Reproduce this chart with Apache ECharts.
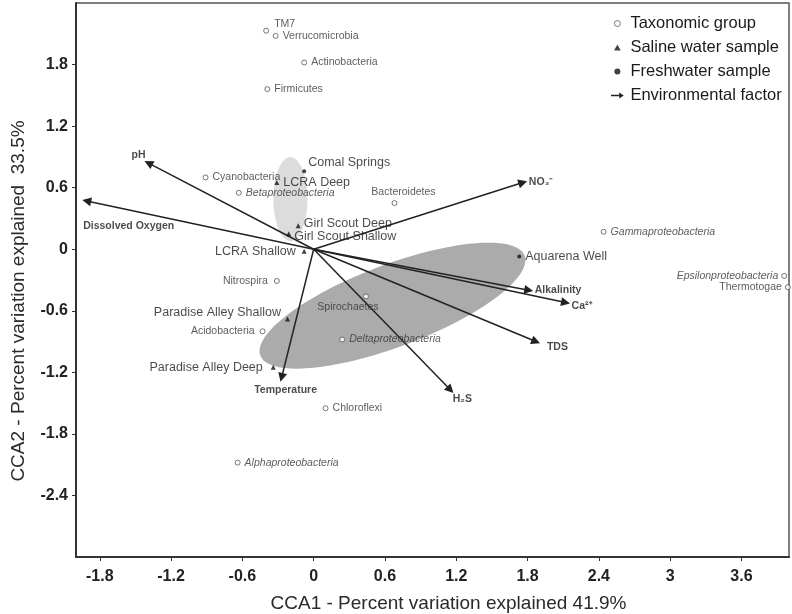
<!DOCTYPE html>
<html>
<head>
<meta charset="utf-8">
<script src="https://cdn.jsdelivr.net/npm/echarts@6/dist/echarts.min.js"></script>
<style>html,body{margin:0;padding:0;background:#fff}#c{width:792px;height:614px}</style>
</head>
<body>
<div id="c"></div>
<script>
// ---------- data ----------
const taxaNames = ['TM7','Verrucomicrobia','Actinobacteria','Firmicutes','Cyanobacteria','Betaproteobacteria','Bacteroidetes','Gammaproteobacteria','Epsilonproteobacteria','Thermotogae','Nitrospira','Spirochaetes','Deltaproteobacteria','Acidobacteria','Chloroflexi','Alphaproteobacteria'];
const taxaX = [-0.40,-0.32,-0.08,-0.39,-0.91,-0.63,0.68,2.44,3.96,3.99,-0.31,0.44,0.24,-0.43,0.10,-0.64];
const taxaY = [2.13,2.08,1.82,1.56,0.70,0.55,0.45,0.17,-0.26,-0.37,-0.31,-0.46,-0.88,-0.80,-1.55,-2.08];

const salineNames = ['LCRA Deep','Girl Scout Deep','Girl Scout Shallow','LCRA Shallow','Paradise Alley Shallow','Paradise Alley Deep'];
const salineX = [-0.31,-0.13,-0.21,-0.08,-0.22,-0.34];
const salineY = [0.65,0.23,0.15,-0.02,-0.68,-1.15];

const freshNames = ['Comal Springs','Aquarena Well'];
const freshX = [-0.08,1.73];
const freshY = [0.76,-0.07];

const envNames = ['pH','Dissolved Oxygen','NO\u2083\u207B','Alkalinity','Ca\u00B2\u207A','TDS','H\u2082S','Temperature'];
const envX = [-1.39,-1.91,1.76,1.81,2.12,1.87,1.15,-0.27];
const envY = [0.84,0.47,0.65,-0.40,-0.52,-0.90,-1.37,-1.25];

// ellipses: center x, center y, axis-1 vector (x,y), axis-2 vector (x,y) in data units
const ellipseCenterX = [-0.196, 0.663];
const ellipseCenterY = [0.489, -0.550];
const ellipseAxis1 = [[0, 0.409],[1.112, 0.487]];
const ellipseAxis2 = [[0.143, 0],[0.123, -0.374]];

const xTicks = [-1.8,-1.2,-0.6,0,0.6,1.2,1.8,2.4,3,3.6];
const yTicks = [-2.4,-1.8,-1.2,-0.6,0,0.6,1.2,1.8];
const xRange = [-2, 4];
const yRange = [-3, 2.4];

// ---------- styles ----------
const FONT = '"Liberation Sans", Arial, sans-serif';
const ellipseColors = ['#dcdcdc', '#ababab'];
const italicTaxa = ['Betaproteobacteria','Gammaproteobacteria','Epsilonproteobacteria','Deltaproteobacteria','Alphaproteobacteria'];
const taxaLabelPos = {
  'TM7': {position:'right', distance:5, offset:[0,-7]},
  'Bacteroidetes': {position:'top', distance:2, offset:[9,0]},
  'Epsilonproteobacteria': {position:'left', distance:3},
  'Thermotogae': {position:'left', distance:3},
  'Nitrospira': {position:'left', distance:6},
  'Spirochaetes': {position:'bottom', distance:2, offset:[-18,0]},
  'Acidobacteria': {position:'left', distance:5}
};
const sampleLabelPos = {
  'Comal Springs': {position:'right', distance:2, offset:[0,-9]},
  'LCRA Deep': {position:'right', distance:4},
  'Girl Scout Deep': {position:'right', distance:3, offset:[0,-2]},
  'Girl Scout Shallow': {position:'right', distance:3, offset:[0,3]},
  'LCRA Shallow': {position:'left', distance:6},
  'Aquarena Well': {position:'right', distance:4},
  'Paradise Alley Shallow': {position:'left', distance:4, offset:[0,-6]},
  'Paradise Alley Deep': {position:'left', distance:8}
};
const envLabelPos = [
  {position:'left', distance:3, offset:[0,-8]},
  {position:'bottom', distance:20, offset:[42,0]},
  {position:'right', distance:6},
  {position:'right', distance:6},
  {position:'right', distance:6, offset:[0,4]},
  {position:'right', distance:11, offset:[0,6]},
  {position:'bottom', distance:4, offset:[12,0]},
  {position:'bottom', distance:7, offset:[4,0]}
];

const taxaData = taxaNames.map((n,i)=>({
  name:n, value:[taxaX[i], taxaY[i]],
  label: Object.assign({position:'right', distance:4, fontStyle: italicTaxa.includes(n)?'italic':'normal'}, taxaLabelPos[n]||{})
}));
const salineData = salineNames.map((n,i)=>({name:n, value:[salineX[i], salineY[i]], label: Object.assign({}, sampleLabelPos[n])}));
const freshData = freshNames.map((n,i)=>({name:n, value:[freshX[i], freshY[i]], label: Object.assign({}, sampleLabelPos[n])}));
const arrowData = envNames.map((n,i)=>({name:n, coords:[[0,0],[envX[i], envY[i]]]}));
const envLabelData = envNames.map((n,i)=>({name:n, value:[envX[i], envY[i]], label: Object.assign({}, envLabelPos[i])}));
const ellipseData = ellipseCenterX.map((c,i)=>[c, ellipseCenterY[i], ellipseAxis1[i][0], ellipseAxis1[i][1], ellipseAxis2[i][0], ellipseAxis2[i][1]]);

const chart = echarts.init(document.getElementById('c'), null, {renderer:'canvas'});
chart.setOption({
  animation:false,
  backgroundColor:'#fff',
  grid:{left:76, right:3, top:3, bottom:57, show:true, borderColor:'#555', borderWidth:1.5, containLabel:false, outerBoundsMode:'none'},
  legend:{
    orient:'vertical', left:606, top:10, itemWidth:16, itemHeight:6, itemGap:7,
    selectedMode:false,
    textStyle:{fontSize:16.5, color:'#1a1a1a', fontFamily:FONT},
    data:[
      {name:'Taxonomic group', icon:'circle', itemStyle:{color:'#fff', borderColor:'#555', borderWidth:1}},
      {name:'Saline water sample', icon:'path://M5,0L10,9L0,9Z', itemStyle:{color:'#111', borderWidth:0}},
      {name:'Freshwater sample', icon:'circle', itemStyle:{color:'#111', borderWidth:0}},
      {name:'Environmental factor', icon:'path://M0,3L11,3L11,0L17,4L11,8L11,5L0,5Z', itemStyle:{color:'#222', borderWidth:0}}
    ]
  },
  xAxis:{
    type:'value', min:xRange[0], max:xRange[1],
    name:'CCA1 - Percent variation explained 41.9%', nameLocation:'middle', nameGap:37,
    nameTextStyle:{fontSize:19, color:'#2a2a2a', fontFamily:FONT, padding:[0,0,0,32]},
    axisLine:{onZero:false, lineStyle:{color:'#333', width:2}},
    axisTick:{show:true, length:4, customValues:xTicks, lineStyle:{color:'#333'}},
    axisLabel:{customValues:xTicks, fontSize:16, fontWeight:'bold', color:'#222', fontFamily:FONT, margin:12},
    splitLine:{show:false}
  },
  yAxis:{
    type:'value', min:yRange[0], max:yRange[1],
    name:'CCA2 - Percent variation explained  33.5%', nameLocation:'middle', nameGap:48,
    nameTextStyle:{fontSize:19, color:'#2a2a2a', fontFamily:FONT, padding:[0,42,0,0]},
    axisLine:{onZero:false, lineStyle:{color:'#333', width:2}},
    axisTick:{show:true, length:4, customValues:yTicks, lineStyle:{color:'#333'}},
    axisLabel:{customValues:yTicks, fontSize:16, fontWeight:'bold', color:'#222', fontFamily:FONT, margin:8},
    splitLine:{show:false}
  },
  series:[
    {
      type:'custom', name:'ellipses', z:1, silent:true,
      data: ellipseData,
      encode:{x:0, y:1},
      renderItem:function(params, api){
        const cx=api.value(0), cy=api.value(1), ax=api.value(2), ay=api.value(3), bx=api.value(4), by=api.value(5);
        const pts=[];
        for(let k=0;k<96;k++){
          const t=2*Math.PI*k/96;
          pts.push(api.coord([cx+Math.cos(t)*ax+Math.sin(t)*bx, cy+Math.cos(t)*ay+Math.sin(t)*by]));
        }
        return {type:'polygon', shape:{points:pts}, style:{fill:ellipseColors[params.dataIndex], stroke:null}};
      }
    },
    {
      type:'lines', name:'Environmental factor', coordinateSystem:'cartesian2d', z:3,
      symbol:['none','triangle'], symbolSize:[0,9],
      lineStyle:{color:'#222', width:1.5, opacity:1},
      itemStyle:{color:'#222'},
      data: arrowData
    },
    {
      type:'scatter', name:'envLabels', z:4, symbolSize:0, silent:true,
      data: envLabelData,
      label:{show:true, formatter:'{b}', fontSize:10.5, fontWeight:'bold', color:'#1a1a1a', fontFamily:FONT}
    },
    {
      type:'scatter', name:'Taxonomic group', z:5, symbol:'circle', symbolSize:5,
      itemStyle:{color:'#fff', borderColor:'#555', borderWidth:1},
      data: taxaData,
      label:{show:true, formatter:'{b}', fontSize:10.5, color:'#333', fontFamily:FONT}
    },
    {
      type:'scatter', name:'Saline water sample', z:5, symbol:'triangle', symbolSize:5,
      itemStyle:{color:'#111'},
      data: salineData,
      label:{show:true, formatter:'{b}', fontSize:12.5, color:'#1a1a1a', fontFamily:FONT}
    },
    {
      type:'scatter', name:'Freshwater sample', z:5, symbol:'circle', symbolSize:4,
      itemStyle:{color:'#111'},
      data: freshData,
      label:{show:true, formatter:'{b}', fontSize:12.5, color:'#1a1a1a', fontFamily:FONT}
    }
  ]
});
</script>
</body>
</html>
